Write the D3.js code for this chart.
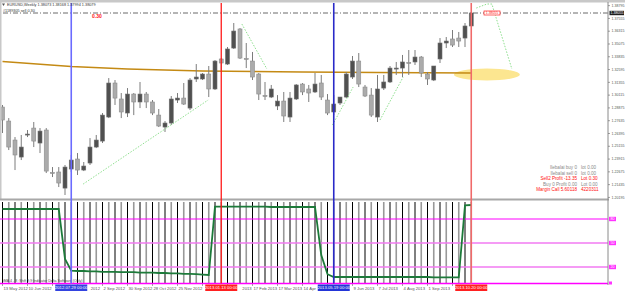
<!DOCTYPE html>
<html>
<head>
<meta charset="utf-8">
<script src="https://cdnjs.cloudflare.com/ajax/libs/d3/7.8.5/d3.min.js"></script>
<style>
body { margin: 0; background: #fff; }
svg { display: block; font-family: "Liberation Sans", Arial, sans-serif; }
</style>
</head>
<body>
<div id="chart"></div>
<script>
var w = 625, h = 292;

// weekly EURUSD bars, bar 0 = week of 13 May 2012
var opens  = [1.2896,1.2760,1.2576,1.2411,1.2629,1.2692,1.2547,1.2673,1.2261,1.2266,
              1.2110,1.2295,1.2392,1.2285,1.2353,1.2508,1.2566,1.2799,1.3129,1.2974,
              1.2838,1.3022,1.2945,1.3022,1.2945,1.2818,1.2702,1.2741,1.2964,1.2983,
              1.2886,1.3168,1.3168,1.3216,1.3071,1.3362,1.3313,1.3468,1.3653,1.3367,
              1.3342,1.3216,1.3008,1.2993,1.2906,1.2954,1.2799,1.2974,1.3119,1.3071,
              1.3042,1.3129,1.2964,1.2848,1.2935,1.2993,1.3187,1.3342,1.3090,1.3012,
              1.2799,1.3080,1.3139,1.3270,1.3274,1.3328,1.3333,1.3381,1.3216,1.3158,
              1.3362,1.3517,1.3556,1.3565,1.3565,1.3682];
var highs  = [1.2916,1.2789,1.2605,1.2625,1.2673,1.2751,1.2692,1.2692,1.2314,1.2314,
              1.2334,1.2431,1.2450,1.2363,1.2595,1.2625,1.2838,1.3177,1.3158,1.3032,
              1.3080,1.3032,1.3139,1.3042,1.2964,1.2877,1.2760,1.3003,1.3032,1.3129,
              1.3177,1.3313,1.3226,1.3294,1.3352,1.3371,1.3478,1.3711,1.3662,1.3517,
              1.3430,1.3226,1.3139,1.3110,1.3012,1.3042,1.3042,1.3119,1.3129,1.3110,
              1.3226,1.3207,1.3022,1.3012,1.2993,1.3236,1.3391,1.3420,1.3110,1.3080,
              1.3207,1.3207,1.3294,1.3333,1.3401,1.3449,1.3449,1.3391,1.3236,1.3294,
              1.3565,1.3575,1.3643,1.3624,1.3711,1.3818];
var lows   = [1.2644,1.2479,1.2285,1.2382,1.2605,1.2508,1.2450,1.2256,1.2217,1.2120,
              1.2043,1.2266,1.2237,1.2275,1.2334,1.2498,1.2547,1.2789,1.2916,1.2789,
              1.2799,1.2818,1.2886,1.2886,1.2818,1.2702,1.2654,1.2722,1.2935,1.2916,
              1.2867,1.3139,1.3158,1.2993,1.3061,1.3255,1.3304,1.3459,1.3362,1.3274,
              1.3158,1.2964,1.2964,1.2983,1.2867,1.2751,1.2751,1.2964,1.3012,1.2945,
              1.3032,1.2964,1.2818,1.2818,1.2916,1.2983,1.3168,1.3090,1.2993,1.2799,
              1.2751,1.3061,1.3129,1.3207,1.3187,1.3207,1.3304,1.3187,1.3110,1.3148,
              1.3323,1.3468,1.3478,1.3478,1.3478,1.3682];
var closes = [1.2770,1.2508,1.2431,1.2508,1.2634,1.2566,1.2663,1.2275,1.2256,1.2159,
              1.2314,1.2382,1.2285,1.2324,1.2508,1.2576,1.2818,1.3129,1.2983,1.2848,
              1.3022,1.2945,1.3022,1.2945,1.2838,1.2712,1.2741,1.2974,1.2983,1.2925,
              1.3158,1.3187,1.3216,1.3071,1.3342,1.3323,1.3459,1.3633,1.3371,1.3362,
              1.3187,1.3022,1.3003,1.3071,1.2954,1.2809,1.2983,1.3110,1.3042,1.3032,
              1.3119,1.2993,1.2838,1.2925,1.2993,1.3216,1.3342,1.3119,1.3003,1.2818,
              1.3071,1.3139,1.3274,1.3274,1.3333,1.3323,1.3381,1.3226,1.3168,1.3294,
              1.3517,1.3536,1.3497,1.3536,1.3682,1.3808];

// oscillator in the lower window (0..100)
var osc = [92.5,92.5,92.5,92.5,92.5,92.5,92.5,92.5,92.5,92.5,
           30,15.5,15,15,14.5,14.5,14,14,14,13.5,
           13.5,13.5,13,13,13,12.5,12.5,12,12,11.5,
           11.5,11,10.5,10,95.5,95.5,95.5,95.5,95.5,95.5,
           95.5,95.5,95.5,95,95,95,95,95,95,95,
           95,35,11,7.5,7.5,7.5,7.5,7.5,7.5,7.5,
           7.5,7.5,7.5,7.5,7.5,7.5,7.5,7.5,7.5,7,
           7,7,7,7,97,97.5];
var levels = [80, 50, 20];
var levelLabels = ['80', '50', '20'];

// slow moving average (bar, price)
var maBars = [0, 11, 20, 32, 48, 60, 75];
var maVals = [1.3338, 1.3289, 1.3265, 1.3245, 1.3236, 1.3231, 1.3226];

// dotted trend lines (bar, price) pairs
var trends = [
  [[12.9, 1.2149], [32.9, 1.2964]],
  [[38.3, 1.3701], [42.3, 1.3265]],
  [[52.8, 1.2722], [56.1, 1.3090]],
  [[60.4, 1.2770], [64.1, 1.3187]],
  [[75.8, 1.3856], [77.5, 1.3895], [78.3, 1.3895], [81.5, 1.3265]]
];
var zoneBar = 77.5, zonePrice = 1.3211;
var orderPrice = 1.3808, orderLabel = '1.38055';

var priceTicks = [1.38795,1.37555,1.36315,1.35075,1.33835,1.32595,1.31355,1.30115,
                  1.28875,1.27635,1.26395,1.25155,1.23915,1.22675,1.21435,1.20195];
var dateLabels = ['13 May 2012','10 Jun 2012','8 Jul 2012','5 Aug 2012','2 Sep 2012',
                  '30 Sep 2012','28 Oct 2012','25 Nov 2012','23 Dec 2012','20 Jan 2013',
                  '17 Feb 2013','17 Mar 2013','14 Apr 2013','12 May 2013','9 Jun 2013',
                  '7 Jul 2013','4 Aug 2013','1 Sep 2013','29 Sep 2013'];
var vBars = [11, 35, 53, 75];
var vLabels = ['2012.07.29 00:00', '2013.01.13 00:00', '2013.05.19 00:00', '2013.10.20 00:00'];
var vColors = ['#6b6bff', '#ff1a1a', '#2a2ac8', '#f06a6a'];
var vBoxes = ['#3343e0', '#ff2020', '#2335d8', '#ff2020'];

var infoLeft = ['Ilebalai buy 0', 'Ilebalai sell 0', 'Sell2  Profit -13.35', 'Buy 0  Profit 0.00', 'Margin Call 5.60118'];
var infoRight = ['lot 0.00', 'lot 0.00', 'Lot 0.30', 'Lot 0.00', '4220311'];
var infoColor = ['#8a8a8a', '#8a8a8a', '#ff1010', '#8a8a8a', '#ff1010'];

var axisX = 608;
var x = d3.scaleLinear().domain([0, 96]).range([2.5, 602.5]);
var y = d3.scaleLinear().domain([1.2043, 1.3808]).range([195, 13]);
var yo = d3.scaleLinear().domain([0, 100]).range([283, 203]);

var svg = d3.select('#chart').append('svg')
  .attr('width', w)
  .attr('height', h);

svg.append('rect').attr('width', w).attr('height', h).attr('fill', '#fff');

var main = svg.append('g');
main.append('clipPath').attr('id', 'mainclip')
  .append('rect').attr('x', 0).attr('y', 3).attr('width', axisX).attr('height', 195);

// borders
svg.append('rect').attr('x', 0).attr('y', 0).attr('width', w).attr('height', 2.5).attr('fill', '#c8c8c8');
svg.append('rect').attr('x', 0).attr('y', 2).attr('width', 1.5).attr('height', 197).attr('fill', '#c8c8c8');
svg.append('rect').attr('x', 0).attr('y', 198.5).attr('width', axisX + 1).attr('height', 2).attr('fill', '#a8a8a8');

var plot = main.append('g').attr('clip-path', 'url(#mainclip)');

// yellow zone
plot.append('ellipse')
  .attr('cx', x(zoneBar)).attr('cy', y(zonePrice))
  .attr('rx', 33).attr('ry', 6)
  .attr('fill', '#fbe27c').attr('opacity', 0.85);

// moving average
var maLine = d3.line().x(function(d) { return x(d[0]); }).y(function(d) { return y(d[1]); });
plot.append('path')
  .datum(maBars.map(function(b, i) { return [b, maVals[i]]; }))
  .attr('d', maLine)
  .attr('fill', 'none').attr('stroke', '#c48a14').attr('stroke-width', 1.5);

// candles
var bars = d3.range(opens.length);
plot.selectAll('.wick').data(bars).enter().append('line')
  .attr('class', 'wick')
  .attr('x1', function(i) { return x(i); })
  .attr('x2', function(i) { return x(i); })
  .attr('y1', function(i) { return y(highs[i]); })
  .attr('y2', function(i) { return y(lows[i]); })
  .attr('stroke', '#7c7c7c').attr('stroke-width', 1);

plot.selectAll('.body').data(bars).enter().append('rect')
  .attr('class', 'body')
  .attr('x', function(i) { return x(i) - 2; })
  .attr('width', 4)
  .attr('y', function(i) { return y(Math.max(opens[i], closes[i])); })
  .attr('height', function(i) { return Math.max(1, Math.abs(y(opens[i]) - y(closes[i]))); })
  .attr('fill', function(i) { return closes[i] >= opens[i] ? '#505050' : '#ababab'; })
  .attr('stroke', function(i) { return closes[i] >= opens[i] ? '#6e6e6e' : '#8c8c8c'; })
  .attr('stroke-width', 0.6);

// dotted trend lines
trends.forEach(function(t) {
  plot.append('path').datum(t).attr('d', maLine)
    .attr('fill', 'none').attr('stroke', '#8fe08f')
    .attr('stroke-width', 1).attr('stroke-dasharray', '1.5,1.5');
});

// order line
plot.append('line')
  .attr('x1', 3).attr('x2', axisX).attr('y1', y(orderPrice)).attr('y2', y(orderPrice))
  .attr('stroke', '#444').attr('stroke-width', 0.8).attr('stroke-dasharray', '5,2,1,2');
plot.append('rect')
  .attr('x', x(77.2) - 1).attr('y', y(orderPrice) - 2).attr('width', 16).attr('height', 4)
  .attr('fill', '#fff').attr('stroke', '#ff2020').attr('stroke-width', 0.7);
plot.append('text')
  .attr('x', x(77.2) + 7).attr('y', y(orderPrice) + 1.3)
  .attr('text-anchor', 'middle').attr('font-size', 3.4).attr('fill', '#ff2020')
  .text(orderLabel);

// indicator window
var ind = svg.append('g');
ind.selectAll('.hbar').data(bars).enter().append('line')
  .attr('class', 'hbar')
  .attr('x1', function(i) { return x(i); })
  .attr('x2', function(i) { return x(i); })
  .attr('y1', yo(100) - 1).attr('y2', yo(0))
  .attr('stroke', function(i) { return i % 2 ? '#999' : '#000'; })
  .attr('stroke-width', function(i) { return i % 2 ? 1.6 : 1; });

ind.selectAll('.lvl').data(levels).enter().append('line')
  .attr('class', 'lvl')
  .attr('x1', 0).attr('x2', axisX)
  .attr('y1', function(d) { return yo(d); }).attr('y2', function(d) { return yo(d); })
  .attr('stroke', function(d, i) { return i === 0 ? '#ff00ff' : '#f27af2'; })
  .attr('stroke-width', function(d, i) { return i === 0 ? 1 : 1.6; });
ind.append('line').attr('x1', 0).attr('x2', axisX).attr('y1', yo(0) + 0.5).attr('y2', yo(0) + 0.5)
  .attr('stroke', '#ff00ff').attr('stroke-width', 1.5);

var oscLine = d3.line().x(function(d, i) { return x(i); }).y(function(d) { return yo(d); });
ind.append('path').datum(osc).attr('d', oscLine)
  .attr('fill', 'none').attr('stroke', '#1d7a3a').attr('stroke-width', 1.8);

ind.append('text').attr('x', 3).attr('y', 282)
  .attr('font-size', 3.6).attr('fill', '#444')
  .text('iMA 4 - 8 :Shift 9.9   Indicator Delta Software (Only)');

// vertical lines
svg.selectAll('.vl').data(vBars).enter().append('line')
  .attr('class', 'vl')
  .attr('x1', function(d) { return x(d); }).attr('x2', function(d) { return x(d); })
  .attr('y1', 3).attr('y2', 283.5)
  .attr('stroke', function(d, i) { return vColors[i]; })
  .attr('stroke-width', function(d, i) { return i === 1 ? 1.3 : 1.6; });

// price axis
svg.append('line').attr('x1', axisX).attr('x2', axisX).attr('y1', 2).attr('y2', 285)
  .attr('stroke', '#8a8a8a').attr('stroke-width', 1);
var pt = svg.selectAll('.pt').data(priceTicks).enter().append('g')
  .attr('transform', function(d) { return 'translate(' + axisX + ',' + y(d) + ')'; });
pt.append('line').attr('x1', 0).attr('x2', 2).attr('stroke', '#666').attr('stroke-width', 0.6);
pt.append('text').attr('x', 3.5).attr('y', 1.2)
  .attr('font-size', 3.6).attr('fill', '#555')
  .text(function(d) { return d.toFixed(5); });

svg.append('rect').attr('x', axisX + 1.5).attr('y', y(orderPrice) - 2.2).attr('width', 14.5).attr('height', 4.4)
  .attr('fill', '#1e1e1e');
svg.append('text').attr('x', axisX + 2.5).attr('y', y(orderPrice) + 1.3)
  .attr('font-size', 3.6).attr('fill', '#fff').text(orderLabel);

var lt = svg.selectAll('.lt').data(levels).enter().append('g')
  .attr('transform', function(d) { return 'translate(' + (axisX + 1) + ',' + yo(d) + ')'; });
lt.append('rect').attr('x', 0).attr('y', -2.2).attr('width', 7).attr('height', 4.4).attr('fill', '#ff33ff');
lt.append('text').attr('x', 3.5).attr('y', 1.3).attr('text-anchor', 'middle')
  .attr('font-size', 3.6).attr('fill', '#fff')
  .text(function(d, i) { return levelLabels[i]; });
svg.append('rect').attr('x', axisX + 1).attr('y', yo(0) - 1.5).attr('width', 3).attr('height', 3).attr('fill', '#ff33ff');

// time axis: words hidden by the line boxes are dropped
var boxHalf = 16;
var tAxis = svg.append('g');
dateLabels.forEach(function(lab, k) {
  var x0 = x(k * 4);
  tAxis.append('line').attr('x1', x0).attr('x2', x0).attr('y1', 284).attr('y2', 286)
    .attr('stroke', '#666').attr('stroke-width', 0.6);
  var cx = x0 + 1;
  lab.split(' ').forEach(function(word) {
    var t = tAxis.append('text').attr('x', cx).attr('y', 289.8)
      .attr('font-size', 4.2).attr('fill', '#555').text(word);
    var len = t.node().getComputedTextLength();
    var hidden = vBars.some(function(b) {
      return cx < x(b) + boxHalf && cx + len > x(b) - boxHalf;
    });
    if (hidden) t.remove();
    cx += len + 1.2;
  });
});

var vb = svg.selectAll('.vb').data(vBars).enter().append('g')
  .attr('transform', function(d) { return 'translate(' + x(d) + ',284.5)'; });
vb.append('rect').attr('x', -boxHalf).attr('y', 0).attr('width', boxHalf * 2).attr('height', 6.5)
  .attr('fill', function(d, i) { return vBoxes[i]; });
vb.append('text').attr('x', 0).attr('y', 4.8).attr('text-anchor', 'middle')
  .attr('font-size', 4.2).attr('fill', '#fff')
  .text(function(d, i) { return vLabels[i]; });

// header text
svg.append('path').attr('d', 'M2,3.5 L5,3.5 L3.5,6 Z').attr('fill', '#555');
svg.append('text').attr('x', 7).attr('y', 6)
  .attr('font-size', 3.8).attr('fill', '#333')
  .text('EURUSD,Weekly  1.38073 1.38168 1.37994 1.38079');
svg.append('text').attr('x', 3).attr('y', 11.5)
  .attr('font-size', 3.8).attr('fill', '#333')
  .text('#1189305 sell 0.30');
svg.append('text').attr('x', 92).attr('y', 18)
  .attr('font-size', 5).attr('font-weight', 'bold').attr('fill', '#ff2020')
  .text('0.30');

// account info block
var info = svg.selectAll('.info').data(infoLeft).enter().append('g')
  .attr('transform', function(d, i) { return 'translate(0,' + (169 + i * 5.5) + ')'; });
info.append('text').attr('x', 577).attr('text-anchor', 'end')
  .attr('font-size', 4.6).attr('fill', function(d, i) { return infoColor[i]; })
  .text(function(d) { return d; });
info.append('text').attr('x', 581)
  .attr('font-size', 4.6).attr('fill', function(d, i) { return infoColor[i]; })
  .text(function(d, i) { return infoRight[i]; });
</script>
</body>
</html>
